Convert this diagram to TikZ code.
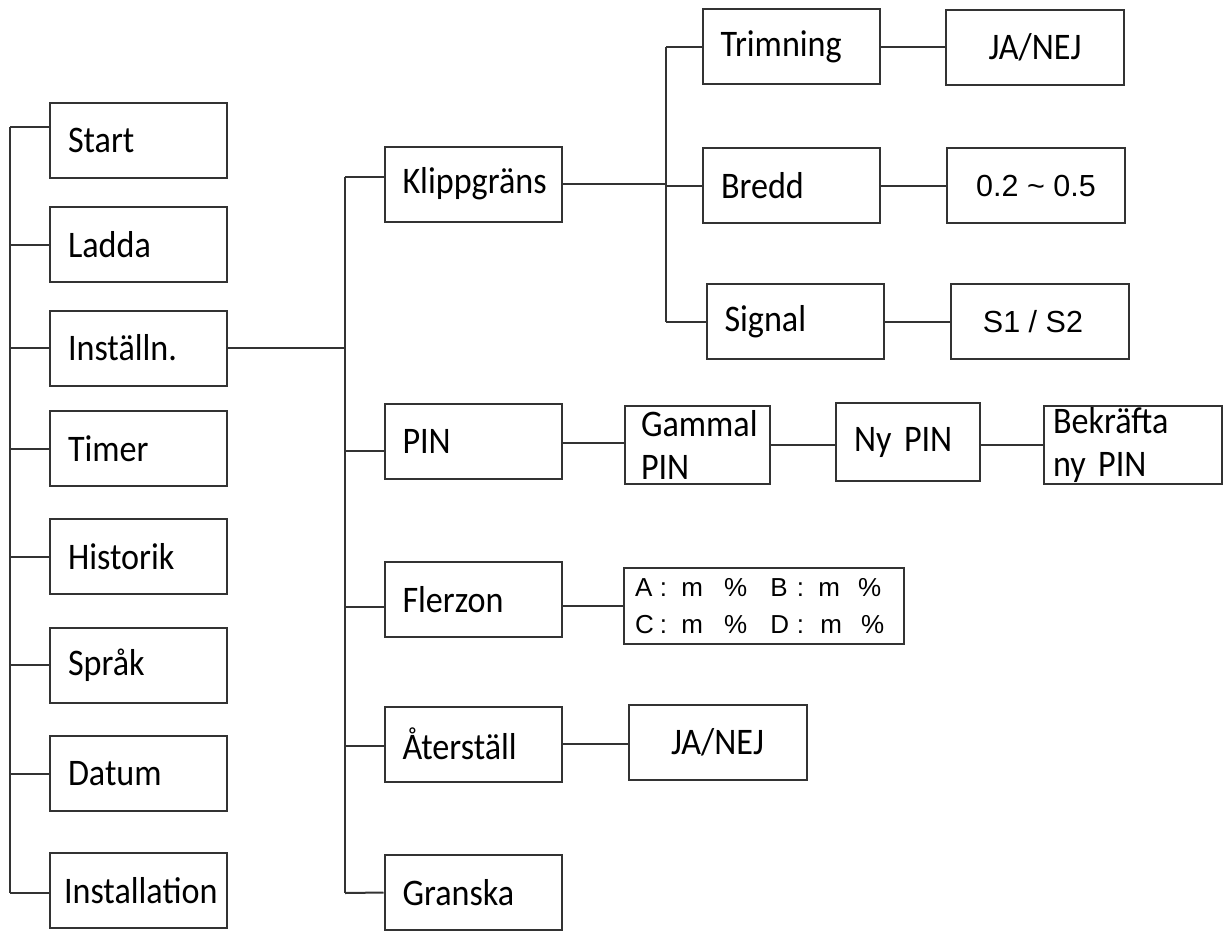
\documentclass[tikz,border=0pt]{standalone}
\usepackage{fontspec}
\setmainfont{Carlito}[FakeStretch=0.91]
\newfontfamily\valfont{Liberation Sans}
\usetikzlibrary{positioning,calc}
\definecolor{lineGray}{RGB}{51,51,51}
% place one glyph of the zone table at a fixed offset
\newcommand\zat[2]{\leavevmode\rlap{\hspace*{#1}#2}}

\begin{document}
\begin{tikzpicture}[x=1pt, y=-1pt,
    line width=2pt, draw=lineGray,
    menubox/.style={draw=lineGray, line width=2pt, minimum height=75pt, inner xsep=18pt, inner ysep=2pt,
      text width=141pt, align=left, font=\fontsize{37.5}{43}\selectfont},
    valbox/.style={draw=lineGray, line width=2pt, minimum width=178pt, minimum height=75pt,
      align=center, font=\fontsize{37.5}{43}\selectfont},
    numbox/.style={valbox, font=\valfont\fontsize{30.5}{34}\selectfont},
    link/.style={draw=lineGray, line width=2pt}]
  \useasboundingbox (0,0) rectangle (1226,932);
  % main menu column
  \node[menubox] (start) at (138.5,140) {Start};
  \node[menubox] (ladda) at (138.5,244.5) {Ladda};
  \node[menubox] (installn) at (138.5,348) {Inställn.};
  \node[menubox] (timer) at (138.5,448.5) {Timer};
  \node[menubox] (historik) at (138.5,556.5) {Historik};
  \node[menubox] (sprak) at (138.5,665) {Språk};
  \node[menubox] (datum) at (138.5,773.5) {Datum};
  \node[menubox, inner xsep=14pt, text width=149pt] (installation) at (138.5,890.5) {Installation};
  % settings column
  \node[menubox] (klipp) at (473,184) {Klippgräns};
  \node[menubox] (pin) at (473,441.5) {PIN};
  \node[menubox] (flerzon) at (473,599.5) {Flerzon};
  \node[menubox] (aterst) at (473,744) {Återställ};
  \node[menubox] (granska) at (473,892.5) {Granska};
  % boundary wire options
  \node[menubox] (trim) at (791,46.5) {Trimning};
  \node[menubox] (bredd) at (791.5,185.5) {Bredd};
  \node[menubox] (signal) at (795,321.5) {Signal};
  \node[valbox] (trimval) at (1035,47.5) {JA/NEJ};
  \node[numbox] (breddval) at (1036,185.5) {0.2 \textasciitilde{} 0.5};
  \node[numbox] (signalval) at (1040,321.5) {\hspace*{-14pt}S1 / S2};
  % PIN chain
  \node[menubox, minimum height=78pt, inner xsep=16pt, text width=113pt, inner ysep=0pt] (oldpin) at (697.5,445) {Gammal\\PIN};
  \node[menubox, minimum height=78pt, text width=108pt] (newpin) at (908,442) {Ny PIN};
  \node[menubox, minimum height=78pt, inner xsep=9pt, text width=160pt, inner ysep=0pt] (confpin) at (1133,445) {Bekräfta\\ny PIN};
  % zone values
  \node[menubox, minimum width=280pt, minimum height=76pt, inner xsep=11pt, text width=258pt,
    font=\valfont\fontsize{26}{37}\selectfont] (zoneval) at (764,606)
    {\zat{0pt}{A}\zat{25pt}{:}\zat{46.5pt}{m}\zat{89pt}{\%}\zat{135.5pt}{B}\zat{162pt}{:}\zat{183.5pt}{m}\zat{223pt}{\%}\\
     \zat{0pt}{C}\zat{25pt}{:}\zat{46.5pt}{m}\zat{89pt}{\%}\zat{135.5pt}{D}\zat{162pt}{:}\zat{185.5pt}{m}\zat{226pt}{\%}};
  \node[valbox] (resetval) at (717.5,742.5) {JA/NEJ};
  % trunk lines
  \coordinate (mtop) at (10,127);
  \coordinate (mbot) at (10,893);
  \coordinate (stop) at (345,177);
  \coordinate (sbot) at (345,893);
  \coordinate (ktop) at (666,46.5);
  \coordinate (kbot) at (666,321.5);
  \draw[link] (mtop) -- (mbot);
  \draw[link] (stop) -- (sbot);
  \draw[link] (ktop) -- (kbot);
  % main menu branches
  \draw[link] ([yshift=13pt]start.west) -- (mtop);
  \foreach \n in {ladda,installn,timer,historik,sprak,datum}
    \draw[link] (\n.west) -- (\n.west -| mtop);
  \draw[link] ([yshift=-2.5pt]installation.west) -- (mbot);
  % settings branches
  \draw[link] (installn.east) -- (installn.east -| stop);
  \draw[link] ([yshift=7pt]klipp.west) -- (stop);
  \draw[link] ([yshift=-9.5pt]pin.west) -- ([yshift=-9.5pt]pin.west -| stop);
  \draw[link] ([yshift=-7.5pt]flerzon.west) -- ([yshift=-7.5pt]flerzon.west -| stop);
  \draw[link] ([yshift=-2pt]aterst.west) -- ([yshift=-2pt]aterst.west -| stop);
  \draw[link] (granska.west) -- (sbot);
  % boundary wire branches
  \draw[link] (klipp.east) -- (klipp.east -| ktop);
  \draw[link] (trim.west) -- (ktop);
  \draw[link] (bredd.west) -- (bredd.west -| ktop);
  \draw[link] (signal.west) -- (kbot);
  \draw[link] (trim.east) -- (trim.east -| trimval.west);
  \draw[link] (bredd.east) -- (bredd.east -| breddval.west);
  \draw[link] (signal.east) -- (signal.east -| signalval.west);
  % PIN, zones, reset
  \draw[link] ([yshift=-1.5pt]pin.east) -- ([yshift=-1.5pt]pin.east -| oldpin.west);
  \draw[link] (oldpin.east) -- (oldpin.east -| newpin.west);
  \draw[link] (newpin.east |- oldpin.east) -- (oldpin.east -| confpin.west);
  \draw[link] ([yshift=-6.5pt]flerzon.east) -- (zoneval.west);
  \draw[link] (aterst.east) -- (aterst.east -| resetval.west);
\end{tikzpicture}
\end{document}
